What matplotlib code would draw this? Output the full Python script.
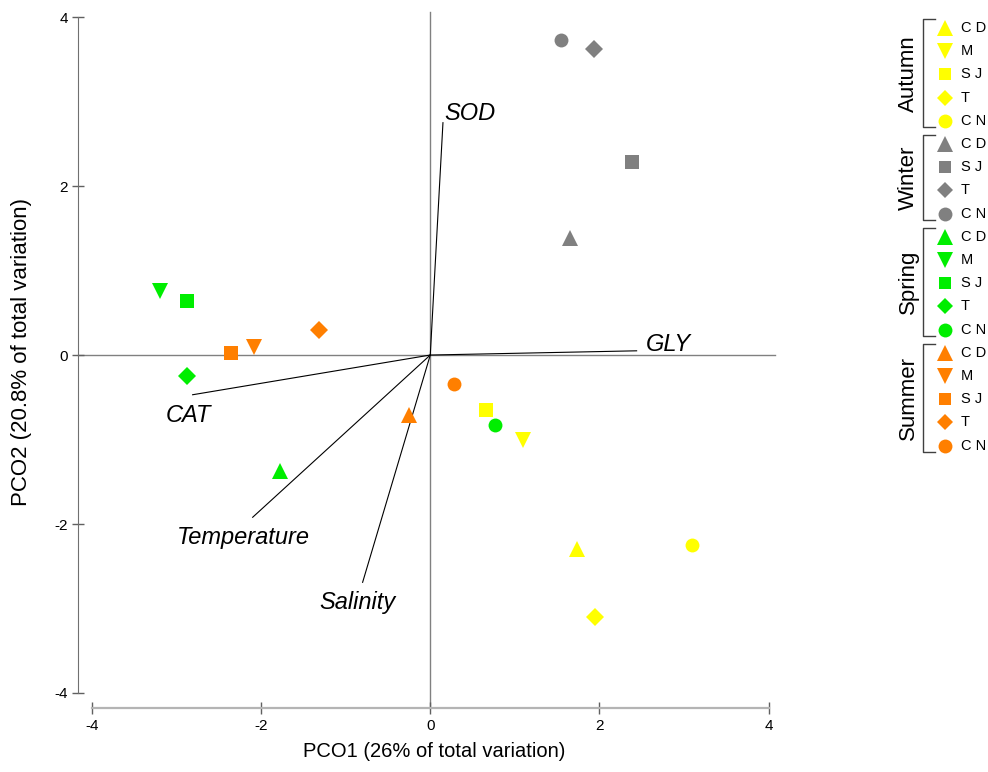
import matplotlib
matplotlib.use("Agg")
import matplotlib.pyplot as plt

plt.rcParams['font.family'] = ['Liberation Sans', 'DejaVu Sans']
plt.rcParams['axes.unicode_minus'] = False

# PCO scores, one list per season; sites listed in the same order as the legend
seasons = ["Autumn", "Winter", "Spring", "Summer"]
season_colors = {"Autumn": "#FFFF00", "Winter": "#808080",
                 "Spring": "#00EE00", "Summer": "#FF7F00"}
site_markers = {"CD": "^", "M": "v", "SJ": "s", "T": "D", "CN": "o"}

autumn_sites = ["CD", "M", "SJ", "T", "CN"]
autumn_pco1 = [1.74, 1.10, 0.66, 1.95, 3.10]
autumn_pco2 = [-2.30, -1.01, -0.65, -3.10, -2.25]

winter_sites = ["CD", "SJ", "T", "CN"]
winter_pco1 = [1.65, 2.39, 1.94, 1.54]
winter_pco2 = [1.38, 2.28, 3.62, 3.73]

spring_sites = ["CD", "M", "SJ", "T", "CN"]
spring_pco1 = [-1.78, -3.20, -2.88, -2.88, 0.76]
spring_pco2 = [-1.37, 0.76, 0.64, -0.25, -0.83]

summer_sites = ["CD", "M", "SJ", "T", "CN"]
summer_pco1 = [-0.25, -2.08, -2.36, -1.32, 0.28]
summer_pco2 = [-0.71, 0.09, 0.02, 0.30, -0.34]

# vector overlay (correlations with the PCO axes)
vec_names = ["SOD", "GLY", "CAT", "Temperature", "Salinity"]
vec_x = [0.15, 2.44, -2.81, -2.10, -0.80]
vec_y = [2.75, 0.05, -0.47, -1.92, -2.69]

groups = {
    "Autumn": (autumn_sites, autumn_pco1, autumn_pco2),
    "Winter": (winter_sites, winter_pco1, winter_pco2),
    "Spring": (spring_sites, spring_pco1, spring_pco2),
    "Summer": (summer_sites, summer_pco1, summer_pco2),
}

W, H = 988, 772
fig = plt.figure(figsize=(W / 100, H / 100), dpi=100)
ax = fig.add_axes([92 / W, 1 - 693 / H, (777 - 92) / W, (693 - 12) / H])
ax.set_xlim(-4, 4.1)
ax.set_ylim(-4, 4.06)

marker_size = {"^": 12, "v": 12, "s": 10, "D": 9, "o": 10}
for season in seasons:
    sites, xs, ys = groups[season]
    for site, x, y in zip(sites, xs, ys):
        m = site_markers[site]
        ax.plot(x, y, linestyle="none", marker=m, ms=marker_size[m],
                color=season_colors[season], markeredgewidth=0, zorder=3)

# origin cross-hairs
ax.plot([-4.17, 4.08], [0, 0], color="#808080", lw=1, clip_on=False, zorder=1)
ax.plot([0, 0], [-4.18, 4.06], color="#808080", lw=1, clip_on=False, zorder=1)

# vectors and their labels
label_offsets = {"SOD": (0.32, 0.11), "GLY": (0.37, 0.07), "CAT": (-0.05, -0.25),
                 "Temperature": (-0.11, -0.24), "Salinity": (-0.06, -0.24)}
for name, vx, vy in zip(vec_names, vec_x, vec_y):
    ax.plot([0, vx], [0, vy], color="black", lw=0.8, zorder=2)
    dx, dy = label_offsets[name]
    ax.text(vx + dx, vy + dy, name, style="italic", fontsize=17,
            ha="center", va="center")

# PRIMER-like detached axes
for side in ["top", "right"]:
    ax.spines[side].set_visible(False)
ax.spines["left"].set_position(("outward", 10))
ax.spines["bottom"].set_position(("outward", 10.5))
ax.spines["left"].set_bounds(-4, 4)
ax.spines["bottom"].set_bounds(-4, 4)
ax.spines["left"].set_color("#707070")
ax.spines["bottom"].set_color("#b4b4b4")
ax.spines["bottom"].set_linewidth(1.6)
ax.set_xticks([-4, -2, 0, 2, 4])
ax.set_yticks([-4, -2, 0, 2, 4])
ax.tick_params(direction="inout", length=9, width=1, color="#606060",
               labelsize=11)
ax.tick_params(axis="x", pad=4)
ax.tick_params(axis="y", pad=3)
ax.set_xlabel("PCO1 (26% of total variation)", fontsize=14.5, labelpad=6)
ax.set_ylabel("PCO2 (20.8% of total variation)", fontsize=16, labelpad=16)

# legend drawn in pixel coordinates at the right-hand side
legend_ms = {"^": 11, "v": 11, "s": 8.5, "D": 8, "o": 10}
lax = fig.add_axes([880 / W, 0, (W - 880) / W, 1])
lax.set_xlim(880, W)
lax.set_ylim(H, 0)
lax.axis("off")
row_y = 28
row_step = 23.2
for season in seasons:
    sites = groups[season][0]
    top = row_y
    for site in sites:
        m = site_markers[site]
        lax.plot(945, row_y, linestyle="none", marker=m, ms=legend_ms[m],
                 color=season_colors[season], markeredgewidth=0)
        lax.text(961, row_y, " ".join(site), fontsize=10.5, va="center",
                 ha="left")
        row_y += row_step
    bottom = row_y - row_step
    lax.plot([935, 923, 923, 935], [top - 9, top - 9, bottom + 6, bottom + 6],
             color="#404040", lw=1)
    lax.text(908, (top + bottom) / 2 - 1, season, rotation=90, fontsize=16,
             ha="center", va="center")

fig.savefig("out.png", dpi=100)
